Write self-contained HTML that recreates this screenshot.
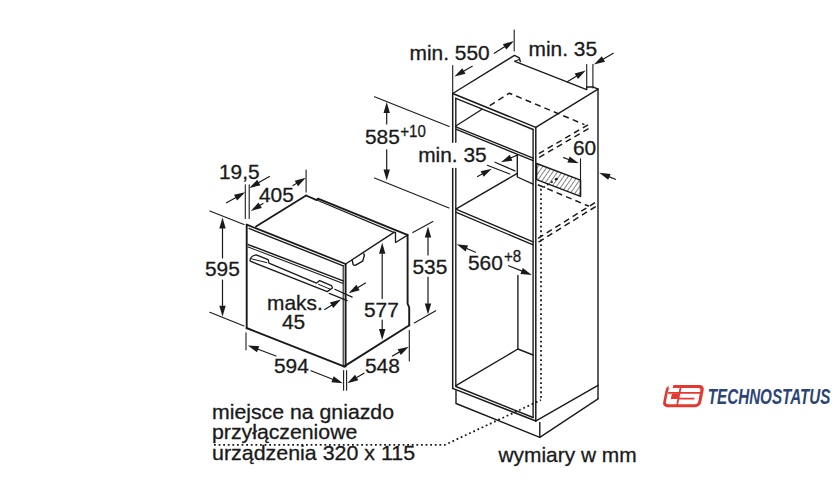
<!DOCTYPE html>
<html><head><meta charset="utf-8"><style>
html,body{margin:0;padding:0;background:#fff;width:840px;height:490px;overflow:hidden}
svg{display:block}
text{font-family:"Liberation Sans",sans-serif;fill:#1a1a1a;stroke:#1a1a1a;stroke-width:0.3px}
</style></head><body>
<svg width="840" height="490" viewBox="0 0 840 490">
<defs><pattern id="hatch" patternUnits="userSpaceOnUse" width="3.8" height="3.8" patternTransform="rotate(35)"><rect width="3.8" height="3.8" fill="#fff"/><line x1="0" y1="0" x2="0" y2="3.8" stroke="#222" stroke-width="1.1"/></pattern></defs>
<rect width="840" height="490" fill="#fff"/>
<g fill="none" stroke="#1a1a1a" stroke-linecap="round" stroke-linejoin="round">
<path d="M246.70,224.60 L246.70,328.20" stroke-width="1.9" />
<path d="M246.50,328.00 L344.50,366.60" stroke-width="1.9" />
<path d="M345.60,264.00 L345.60,366.40" stroke-width="1.9" />
<path d="M343.20,265.50 L343.20,365.60" stroke-width="1.1" />
<path d="M246.70,224.60 L345.60,264.00" stroke-width="1.7" />
<path d="M249.00,228.40 L343.20,265.80" stroke-width="1.4" />
<path d="M256.00,226.50 L306.10,195.50" stroke-width="1.8" />
<path d="M306.10,195.50 L316.70,200.20 L318.00,198.60 L407.30,234.80" stroke-width="1.9" />
<path d="M318.00,200.50 L394.30,232.70" stroke-width="1.3" />
<path d="M345.60,264.00 L394.30,232.10" stroke-width="1.4" />
<path d="M395.50,232.30 L395.50,242.50 L407.30,235.40" stroke-width="1.3" />
<path d="M407.60,234.60 L407.60,303.60 L409.20,307.50 L409.20,325.40" stroke-width="1.9" />
<path d="M343.80,366.60 L409.40,325.20" stroke-width="1.9" />
<path d="M248.20,244.60 L343.20,280.90" stroke-width="1.5" />
<path d="M248.20,247.00 L343.20,283.40" stroke-width="1.1" />
<path d="M250.2,261.2 C249.6,258.6 251.4,255.6 256.2,254.9 L268.2,259.6 L268.9,263.2 L316.4,283.2 L319.6,280.6 L331.5,285.6 L332.5,288 L327.2,291.6 Z" stroke-width="1.3"/>
<path d="M251.60,258.90 L266.80,262.60" stroke-width="1.0" />
<path d="M318.50,284.30 L330.20,289.20" stroke-width="1.0" />
<path d="M352.20,260.30 L353.20,264.90 L355.20,265.40 L362.70,261.10 L364.40,255.30 L363.80,253.90" stroke-width="1.4" />
<path d="M245.30,184.70 L245.30,218.40" stroke-width="1.1" />
<path d="M249.20,184.70 L249.20,218.40" stroke-width="1.1" />
<path d="M226.50,202.70 L235.59,197.65" stroke-width="1.2" />
<path d="M245.20,192.30 L237.14,200.44 L234.03,194.85 Z" fill="#1a1a1a" stroke="none"/>
<path d="M269.40,176.50 L258.85,182.54" stroke-width="1.2" />
<path d="M249.30,188.00 L257.26,179.76 L260.44,185.31 Z" fill="#1a1a1a" stroke="none"/>
<path d="M306.10,170.00 L306.10,192.10" stroke-width="1.1" />
<path d="M263.00,203.50 L260.17,205.24" stroke-width="1.2" />
<path d="M250.80,211.00 L258.50,202.51 L261.85,207.97 Z" fill="#1a1a1a" stroke="none"/>
<path d="M293.00,185.50 L296.37,183.47" stroke-width="1.2" />
<path d="M305.80,177.80 L298.02,186.21 L294.72,180.73 Z" fill="#1a1a1a" stroke="none"/>
<path d="M209.80,211.00 L244.00,224.50" stroke-width="1.1" />
<path d="M209.80,312.30 L244.00,326.00" stroke-width="1.1" />
<path d="M222.50,258.00 L222.50,228.60" stroke-width="1.2" />
<path d="M222.50,217.60 L225.70,228.60 L219.30,228.60 Z" fill="#1a1a1a" stroke="none"/>
<path d="M222.50,280.00 L222.50,305.70" stroke-width="1.2" />
<path d="M222.50,316.70 L219.30,305.70 L225.70,305.70 Z" fill="#1a1a1a" stroke="none"/>
<path d="M246.00,332.70 L246.00,349.80" stroke-width="1.1" />
<path d="M343.60,370.60 L343.60,390.20" stroke-width="1.1" />
<path d="M346.60,370.60 L346.60,390.20" stroke-width="1.1" />
<path d="M276.00,356.00 L258.10,349.27" stroke-width="1.2" />
<path d="M247.80,345.40 L259.22,346.27 L256.97,352.27 Z" fill="#1a1a1a" stroke="none"/>
<path d="M311.00,370.80 L332.55,379.20" stroke-width="1.2" />
<path d="M342.80,383.20 L331.39,382.19 L333.71,376.22 Z" fill="#1a1a1a" stroke="none"/>
<path d="M409.30,330.50 L409.30,361.00" stroke-width="1.1" />
<path d="M364.00,373.20 L356.74,377.55" stroke-width="1.2" />
<path d="M347.30,383.20 L355.09,374.80 L358.38,380.29 Z" fill="#1a1a1a" stroke="none"/>
<path d="M392.40,356.00 L399.23,352.13" stroke-width="1.2" />
<path d="M408.80,346.70 L400.81,354.91 L397.65,349.34 Z" fill="#1a1a1a" stroke="none"/>
<path d="M412.80,232.60 L432.90,221.50" stroke-width="1.1" />
<path d="M414.30,322.90 L435.70,310.70" stroke-width="1.1" />
<path d="M428.00,255.00 L428.00,237.50" stroke-width="1.2" />
<path d="M428.00,226.50 L431.20,237.50 L424.80,237.50 Z" fill="#1a1a1a" stroke="none"/>
<path d="M428.00,277.00 L428.00,303.50" stroke-width="1.2" />
<path d="M428.00,314.50 L424.80,303.50 L431.20,303.50 Z" fill="#1a1a1a" stroke="none"/>
<path d="M382.20,298.50 L382.20,253.80" stroke-width="1.2" />
<path d="M382.20,242.80 L385.40,253.80 L379.00,253.80 Z" fill="#1a1a1a" stroke="none"/>
<path d="M382.20,320.00 L382.20,329.00" stroke-width="1.2" />
<path d="M382.20,340.00 L379.00,329.00 L385.40,329.00 Z" fill="#1a1a1a" stroke="none"/>
<path d="M334.80,289.30 L352.20,297.10" stroke-width="1.2" />
<path d="M329.20,293.40 L347.20,300.60" stroke-width="1.2" />
<path d="M365.50,283.00 L358.02,287.52" stroke-width="1.2" />
<path d="M348.60,293.20 L356.36,284.78 L359.67,290.26 Z" fill="#1a1a1a" stroke="none"/>
<path d="M324.70,309.40 L331.57,305.27" stroke-width="1.2" />
<path d="M341.00,299.60 L333.22,308.01 L329.92,302.53 Z" fill="#1a1a1a" stroke="none"/>
<path d="M452.70,93.50 L452.70,142.20" stroke-width="1.5" />
<path d="M452.70,168.40 L452.70,388.40" stroke-width="1.5" />
<path d="M455.80,98.30 L455.80,142.20" stroke-width="1.4" />
<path d="M455.80,168.40 L455.80,385.90" stroke-width="1.4" />
<path d="M535.80,127.40 L535.80,421.00" stroke-width="1.5" />
<path d="M533.10,129.40 L533.10,417.50" stroke-width="1.4" />
<path d="M452.70,93.50 L535.80,127.40" stroke-width="1.5" />
<path d="M455.80,98.30 L533.10,129.50" stroke-width="1.4" />
<path d="M452.70,388.40 L535.80,421.00" stroke-width="1.5" />
<path d="M455.80,386.50 L533.10,417.50" stroke-width="1.4" />
<path d="M455.80,126.80 L533.10,158.20" stroke-width="1.35" />
<path d="M455.80,129.20 L533.10,160.60" stroke-width="1.35" />
<path d="M455.80,126.00 L481.70,109.50" stroke-width="1.35" />
<path d="M455.80,209.20 L533.10,241.80" stroke-width="1.35" />
<path d="M455.80,212.20 L533.10,244.90" stroke-width="1.35" />
<path d="M455.80,209.20 L517.30,173.40" stroke-width="1.35" />
<path d="M517.30,154.80 L517.30,177.00 L533.10,184.20" stroke-width="1.35" />
<path d="M455.90,385.70 L517.90,349.00" stroke-width="1.35" />
<path d="M517.90,275.50 L517.90,349.00 L533.10,355.00" stroke-width="1.35" />
<path d="M452.70,93.50 L514.50,55.40 L519.30,57.80 L520.30,61.60" stroke-width="1.4" />
<path d="M514.80,61.30 L519.20,59.40" stroke-width="1.1" />
<path d="M514.80,61.30 L586.70,89.60" stroke-width="1.4" />
<path d="M586.70,89.20 L586.70,87.00 L592.90,86.90 L598.00,89.20" stroke-width="1.4" />
<path d="M535.80,127.40 L598.00,89.20" stroke-width="1.4" />
<path d="M598.00,89.20 L598.00,398.80" stroke-width="1.4" />
<path d="M536.00,420.80 L598.00,385.30" stroke-width="1.4" />
<path d="M539.80,422.50 L539.80,437.30" stroke-width="1.4" />
<path d="M456.00,390.80 L456.00,403.50 L539.80,437.30 L598.00,398.80" stroke-width="1.4" />
<path d="M489.80,105.70 L509.30,93.20 L584.50,124.60" stroke-width="1.5" stroke-dasharray="6,4.2" stroke-linecap="butt"/>
<path d="M588.00,124.80 L536.50,155.00" stroke-width="1.5" stroke-dasharray="6,4.2" stroke-linecap="butt"/>
<path d="M588.50,128.70 L536.50,158.90" stroke-width="1.5" stroke-dasharray="6,4.2" stroke-linecap="butt"/>
<path d="M537.80,184.70 L589.00,206.30" stroke-width="1.5" stroke-dasharray="6,4.2" stroke-linecap="butt"/>
<path d="M595.00,202.60 L537.00,239.00" stroke-width="1.5" stroke-dasharray="6,4.2" stroke-linecap="butt"/>
<path d="M595.70,206.60 L537.00,243.00" stroke-width="1.5" stroke-dasharray="6,4.2" stroke-linecap="butt"/>
<path d="M536.6,163.5 L580.5,180.1 L580.5,196.4 L536.6,179.6 Z" fill="url(#hatch)" stroke-width="1.5"/>
<circle cx="556.5" cy="179" r="1.3" fill="#1a1a1a" stroke="none"/>
<path d="M556.50,179.00 L541.00,189.00 L541.00,400.00" stroke-width="1.8" stroke-dasharray="1.8,2.8" stroke-linecap="butt"/>
<path d="M214.00,444.80 L445.00,444.80 L541.00,400.00" stroke-width="1.8" stroke-dasharray="1.8,2.8" stroke-linecap="butt"/>
<path d="M452.70,65.50 L452.70,93.00" stroke-width="1.1" />
<path d="M514.20,30.00 L514.20,51.00" stroke-width="1.1" />
<path d="M472.20,66.20 L463.92,70.99" stroke-width="1.2" />
<path d="M454.40,76.50 L462.32,68.22 L465.52,73.76 Z" fill="#1a1a1a" stroke="none"/>
<path d="M494.30,53.30 L504.58,46.85" stroke-width="1.2" />
<path d="M513.90,41.00 L506.28,49.56 L502.88,44.14 Z" fill="#1a1a1a" stroke="none"/>
<path d="M586.70,64.50 L586.70,88.00" stroke-width="1.1" />
<path d="M592.90,64.50 L592.90,88.00" stroke-width="1.1" />
<path d="M567.30,81.80 L576.30,76.32" stroke-width="1.2" />
<path d="M585.70,70.60 L577.97,79.05 L574.64,73.59 Z" fill="#1a1a1a" stroke="none"/>
<path d="M613.30,53.30 L603.43,59.00" stroke-width="1.2" />
<path d="M593.90,64.50 L601.83,56.23 L605.03,61.77 Z" fill="#1a1a1a" stroke="none"/>
<path d="M374.50,96.70 L449.20,126.50" stroke-width="1.1" />
<path d="M374.50,178.00 L449.00,208.00" stroke-width="1.1" />
<path d="M386.70,124.00 L386.70,113.00" stroke-width="1.2" />
<path d="M386.70,102.00 L389.90,113.00 L383.50,113.00 Z" fill="#1a1a1a" stroke="none"/>
<path d="M386.70,149.80 L386.70,169.40" stroke-width="1.2" />
<path d="M386.70,180.40 L383.50,169.40 L389.90,169.40 Z" fill="#1a1a1a" stroke="none"/>
<path d="M495.00,162.20 L514.90,170.90" stroke-width="1.2" />
<path d="M487.30,165.30 L509.80,174.00" stroke-width="1.2" />
<path d="M517.30,155.10 L511.08,157.81" stroke-width="1.2" />
<path d="M501.00,162.20 L509.81,154.87 L512.36,160.74 Z" fill="#1a1a1a" stroke="none"/>
<path d="M477.60,176.50 L482.13,174.04" stroke-width="1.2" />
<path d="M491.80,168.80 L483.66,176.86 L480.60,171.23 Z" fill="#1a1a1a" stroke="none"/>
<path d="M580.50,158.70 L580.50,196.00" stroke-width="1.1" />
<path d="M563.60,157.60 L568.50,159.44" stroke-width="1.2" />
<path d="M578.80,163.30 L567.38,162.43 L569.62,156.44 Z" fill="#1a1a1a" stroke="none"/>
<path d="M615.40,179.30 L609.41,176.90" stroke-width="1.2" />
<path d="M599.20,172.80 L610.60,173.93 L608.22,179.87 Z" fill="#1a1a1a" stroke="none"/>
<path d="M475.50,252.20 L466.82,248.51" stroke-width="1.2" />
<path d="M456.70,244.20 L468.07,245.56 L465.57,251.45 Z" fill="#1a1a1a" stroke="none"/>
<path d="M508.60,265.70 L521.59,270.91" stroke-width="1.2" />
<path d="M531.80,275.00 L520.40,273.88 L522.78,267.94 Z" fill="#1a1a1a" stroke="none"/>
</g>
<text transform="translate(205,276) scale(1.02,1)" font-size="20.5" >595</text>
<text transform="translate(219,179) scale(1.02,1)" font-size="20.5" >19,5</text>
<text transform="translate(259,202.3) scale(1.02,1)" font-size="20.5" >405</text>
<text transform="translate(274,373) scale(1.02,1)" font-size="20.5" >594</text>
<text transform="translate(365,372.8) scale(1.02,1)" font-size="20.5" >548</text>
<text transform="translate(412.5,274) scale(1.02,1)" font-size="20.5" >535</text>
<text transform="translate(364,317) scale(1.02,1)" font-size="20.5" >577</text>
<text transform="translate(267,310) scale(1.02,1)" font-size="20.5" >maks.</text>
<text transform="translate(282,329) scale(1.02,1)" font-size="20.5" >45</text>
<text transform="translate(409.5,59.5) scale(1.02,1)" font-size="20.5" >min. 550</text>
<text transform="translate(528.5,55.5) scale(1.02,1)" font-size="20.5" >min. 35</text>
<text transform="translate(365,144.3) scale(1.02,1)" font-size="20.5" >585</text>
<text transform="translate(400.3,136.8) scale(0.9,1)" font-size="16.8" >+10</text>
<text transform="translate(418.2,162) scale(1.02,1)" font-size="20.5" >min. 35</text>
<text transform="translate(573,154.8) scale(1.02,1)" font-size="20.5" >60</text>
<text transform="translate(468,270.2) scale(1.02,1)" font-size="20.5" >560</text>
<text transform="translate(504,262.4) scale(0.9,1)" font-size="16.8" >+8</text>
<text transform="translate(212,418.6) scale(1.038,1)" font-size="20.5" >miejsce na gniazdo</text>
<text transform="translate(212,438.6) scale(1.038,1)" font-size="20.5" >przyłączeniowe</text>
<text transform="translate(212,460) scale(1.045,1)" font-size="20.5" >urządzenia 320 x 115</text>
<text transform="translate(498.5,461.9) scale(1.02,1)" font-size="20.5" >wymiary w mm</text>
<g transform="translate(0,396) skewX(-11.3) translate(0,-396)">
<rect x="664.4" y="385" width="38.1" height="22.3" rx="5" fill="#e23a33"/>
<rect x="667.1" y="388" width="32.2" height="16.3" rx="2.8" fill="#fff"/>
<rect x="666.8" y="384.4" width="4.4" height="4" fill="#fff"/>
<rect x="667.4" y="392" width="32.2" height="1.8" fill="#e23a33"/>
<rect x="671.4" y="393.4" width="6.9" height="5.6" fill="#e23a33"/>
<rect x="678" y="385" width="1.8" height="20" fill="#e23a33"/>
<rect x="678.3" y="397.8" width="16.7" height="1.8" fill="#e23a33"/>
</g>
<text transform="translate(707.8,404) scale(0.672,1)" font-size="22.6" font-weight="bold" font-style="italic" style="fill:#2c4474;stroke:none">TECHNOSTATUS</text>
</svg>
</body></html>
